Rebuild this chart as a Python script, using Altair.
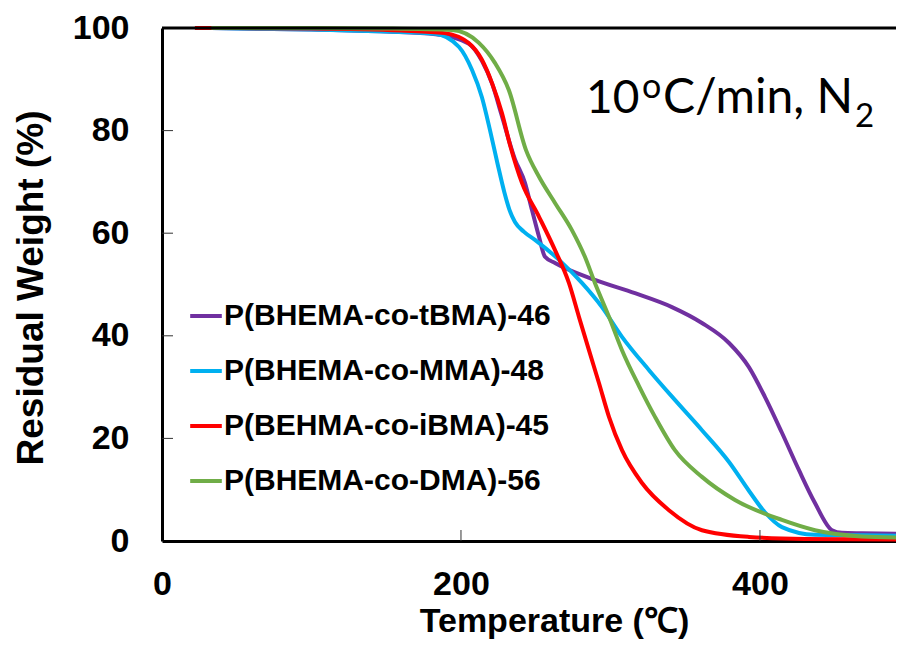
import altair as alt
import pandas as pd

# ---------------- data ----------------
series_names = ["P(BHEMA-co-tBMA)-46", "P(BHEMA-co-MMA)-48",
                "P(BEHMA-co-iBMA)-45", "P(BHEMA-co-DMA)-56"]
series_colors = ["#7030A0", "#00B0F0", "#FF0000", "#70AD47"]

x_tick_values = [0, 200, 400]
y_tick_values = [0, 20, 40, 60, 80, 100]
x_inner_ticks = [200, 400]
y_inner_ticks = [20, 40, 60, 80]

tbma_T = [33, 100, 150, 183, 205, 214, 221, 227, 236, 242.8, 247.5, 252.2, 256.2,
          262.9, 289.6, 316.4, 341.1, 361.2, 379.3, 392.6, 403.3, 414.7, 426.1,
          436.8, 448.2, 454.8, 468, 491]
tbma_W = [100, 99.7, 99.3, 98.8, 97.0, 93.6, 89.0, 83.2, 74.5, 69.8, 64.5, 59.3, 55.4,
          54.2, 50.9, 48.3, 45.6, 42.5, 38.6, 33.9, 28.1, 21.1, 13.8,
          7.4, 2.1, 1.6, 1.5, 1.4]

mma_T = [33, 100, 150, 182.6, 198.7, 207.4, 214, 219.4, 224.5, 229, 232.5, 236.1,
         242, 249.5, 265.6, 280.9, 294.3, 307.7, 325.8, 343.1, 361.2, 379.3,
         392.6, 403.3, 414.7, 436.8, 468, 491]
mma_W = [100, 99.7, 99.3, 98.9, 96.3, 91.8, 86.5, 80.1, 73.5, 68.0, 64.5, 62.2,
         60.3, 58.7, 54.8, 50.3, 45.6, 39.8, 33.3, 27.5, 21.6, 15.4,
         9.8, 5.6, 2.7, 1.2, 1.1, 1.0]

ibma_T = [22, 100, 160, 189, 205, 214, 220.7, 227.4, 233, 240.8, 252.2, 262.9,
          272.2, 278.9, 285.6, 292.3, 299, 307.7, 321.1, 339.1, 361.2, 392.6,
          430, 491]
ibma_W = [100, 99.9, 99.5, 99.0, 97.1, 93.8, 89.3, 83.4, 77.0, 69.8, 63.2, 56.7,
          50.3, 43.7, 37.2, 30.8, 24.2, 17.7, 11.3, 6.0, 2.1, 0.8,
          0.4, 0.3]

dma_T = [33, 100, 150, 194, 212, 222.7, 232, 243.5, 252.2, 262.9, 274.2, 282.9,
         289.6, 299, 307.7, 319.1, 329.8, 343.1, 361.2, 383.3, 414.7, 436.8,
         468, 491]
dma_W = [100, 100, 99.9, 99.6, 97.1, 93.2, 87.9, 76.2, 71.0, 65.9, 60.6, 55.4,
         50.3, 43.7, 37.2, 30.2, 24.2, 17.7, 12.5, 8.0, 4.1, 2.1,
         0.9, 0.7]

all_T = [tbma_T, mma_T, ibma_T, dma_T]
all_W = [tbma_W, mma_W, ibma_W, dma_W]

# ---------------- chart ----------------
FONT = "Liberation Sans"
W_PLOT = 734
H_PLOT = 513
X_MAX = 491

x_scale = alt.Scale(domain=[0, X_MAX], nice=False, zero=False)
y_scale = alt.Scale(domain=[0, 100], nice=False)

color_enc = alt.Color(
    "series:N",
    scale=alt.Scale(domain=series_names, range=series_colors),
    legend=alt.Legend(
        title=None, orient="none", legendX=26, legendY=270,
        symbolType="stroke", symbolSize=1000, symbolStrokeWidth=4,
        labelFont=FONT, labelFontWeight="bold", labelFontSize=30,
        labelColor="black", labelLimit=700, rowPadding=22, labelOffset=0,
    ),
)

x_axis = alt.Axis(
    values=x_tick_values, grid=False, tickSize=0, domainWidth=3,
    domainColor="black", labelFont=FONT, labelFontSize=34,
    labelFontWeight="bold", labelColor="black", labelPadding=26,
    labelFlush=False, title="Temperature (℃)", titleFont=FONT,
    titleFontSize=34, titleFontWeight="bold", titleColor="black",
    titleX=392, titleY=80, titleBaseline="middle", titleAlign="center",
)
y_axis = alt.Axis(
    values=y_tick_values, grid=False, tickSize=0, domainWidth=3,
    domainColor="black", labelFont=FONT, labelFontSize=34,
    labelFontWeight="bold", labelColor="black", labelPadding=33,
    labelFlush=False, title="Residual Weight (%)", titleFont=FONT,
    titleFontSize=37, titleFontWeight="bold", titleColor="black",
    titleX=-131, titleY=H_PLOT / 2 + 3, titleBaseline="middle",
    titleAlign="center", titleAngle=-90,
)

line_layers = []
for i, name in enumerate(series_names):
    df = pd.DataFrame({"T": all_T[i], "W": all_W[i], "series": name})
    line_layers.append(
        alt.Chart(df).mark_line(strokeWidth=4, interpolate="monotone").encode(
            x=alt.X("T:Q", scale=x_scale, axis=x_axis),
            y=alt.Y("W:Q", scale=y_scale, axis=y_axis),
            color=color_enc,
        )
    )

# inward ticks
xt = alt.Chart(pd.DataFrame({"T": x_inner_ticks})).mark_rule(
    color="#333", strokeWidth=1
).encode(x=alt.X("T:Q", scale=x_scale, axis=x_axis),
         y=alt.value(H_PLOT), y2=alt.value(H_PLOT - 11))
yt = alt.Chart(pd.DataFrame({"W": y_inner_ticks})).mark_rule(
    color="#333", strokeWidth=1
).encode(y=alt.Y("W:Q", scale=y_scale, axis=y_axis),
         x=alt.value(0), x2=alt.value(11))

# top border
top = alt.Chart(pd.DataFrame({"W": [100]})).mark_rule(
    color="black", strokeWidth=3
).encode(y=alt.Y("W:Q", scale=y_scale, axis=y_axis))

# annotation "10oC/min, N2"
ann_font = "Lato"
ann_parts = [
    ("10", 424, 85, 46),
    ("o", 480, 70, 34),
    ("C/min, N", 501, 85, 48),
    ("2", 693, 99, 33),
]
ann_layers = []
for txt, px, py, fs in ann_parts:
    ann_layers.append(
        alt.Chart(pd.DataFrame({"s": [txt]})).mark_text(
            font=ann_font, fontSize=fs, color="black", align="left",
            baseline="alphabetic"
        ).encode(text="s:N", x=alt.value(px), y=alt.value(py))
    )

chart = alt.layer(*line_layers, xt, yt, top, *ann_layers).properties(
    width=W_PLOT, height=H_PLOT,
    padding={"left": 154, "top": 20, "right": 0, "bottom": 100},
    autosize=alt.AutoSizeParams(type="none"),
).configure_view(stroke=None).configure(background="white")

chart.save("out.html", embed_options={"renderer": "svg", "actions": False})
